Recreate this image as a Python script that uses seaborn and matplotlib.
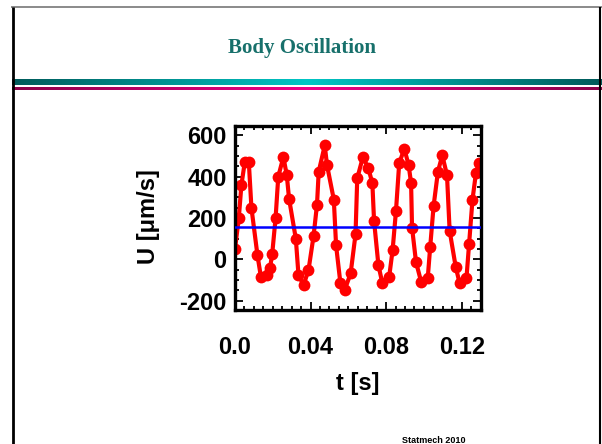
import numpy as np
import pandas as pd
import matplotlib
matplotlib.use("Agg")
import matplotlib.pyplot as plt
from matplotlib.colors import LinearSegmentedColormap
from matplotlib.ticker import MultipleLocator, FixedLocator, FixedFormatter
import seaborn as sns

# Sampled body velocity U(t)
t_s = [0.0000, 0.0020, 0.0034, 0.0052, 0.0073, 0.0087, 0.0119, 0.0137, 0.0167, 0.0185,
       0.0197, 0.0215, 0.0229, 0.0256, 0.0274, 0.0286, 0.0322, 0.0336, 0.0363, 0.0389,
       0.0416, 0.0434, 0.0443, 0.0475, 0.0487, 0.0523, 0.0535, 0.0558, 0.0581, 0.0612,
       0.0638, 0.0647, 0.0677, 0.0706, 0.0727, 0.0736, 0.0759, 0.0780, 0.0816, 0.0834,
       0.0852, 0.0869, 0.0896, 0.0919, 0.0932, 0.0937, 0.0958, 0.0985, 0.1020, 0.1033,
       0.1051, 0.1074, 0.1097, 0.1122, 0.1136, 0.1168, 0.1189, 0.1225, 0.1239, 0.1257,
       0.1275, 0.1292]
u_ums = [51, 199, 360, 472, 472, 249, 19, -84, -76, -44,
         27, 202, 400, 495, 408, 294, 99, -76, -124, -52,
         114, 265, 424, 551, 456, 289, 67, -116, -147, -68,
         122, 392, 495, 440, 368, 186, -28, -116, -84, 43,
         234, 464, 535, 456, 368, 154, -13, -108, -92, 59,
         257, 424, 503, 408, 138, -36, -116, -92, 75, 289,
         416, 464]
mean_u = 155

x_ticks = [0.0, 0.04, 0.08, 0.12]
x_tick_labels = ["0.0", "0.04", "0.08", "0.12"]
y_ticks = [-200, 0, 200, 400, 600]
y_tick_labels = ["-200", "0", "200", "400", "600"]

sns.set_theme(style="ticks")
plt.rcParams["font.family"] = ["Liberation Sans", "DejaVu Sans"]
plt.rcParams.update({"text.color": "black", "axes.labelcolor": "black",
                     "xtick.color": "black", "ytick.color": "black"})

W, H = 602, 444
fig = plt.figure(figsize=(W / 100, H / 100), dpi=100)
fig.patch.set_facecolor("white")

# Slide frame, title and header bars (pixel coordinates)
deco = fig.add_axes([0, 0, 1, 1])
deco.axis("off")

teal = LinearSegmentedColormap.from_list("teal", ["#005a5a", "#00c6c6", "#005a5a"])
pink = LinearSegmentedColormap.from_list("pink", ["#8a0048", "#ee0088", "#8a0048"])
grad = np.linspace(0, 1, 512)[None, :]
deco.imshow(grad, cmap=teal, extent=[12, W, 85, 79], aspect="auto", interpolation="bilinear")
deco.imshow(grad, cmap=pink, extent=[12, W, 90, 87], aspect="auto", interpolation="bilinear")
deco.set_xlim(0, W)
deco.set_ylim(H, 0)

deco.plot([11, W], [7.5, 7.5], color="#777777", lw=1.2, solid_capstyle="butt")
deco.plot([12.5, 12.5], [7, H], color="black", lw=2.0, solid_capstyle="butt")
deco.plot([599.5, 599.5], [7, H], color="black", lw=1.5, solid_capstyle="butt")

deco.text(302, 48, "Body Oscillation", ha="center", va="center", fontsize=15,
          fontweight="bold", color="#17706b", family=["Liberation Serif", "DejaVu Serif"])
deco.text(402, 443, "Statmech 2010", ha="left", va="baseline", fontsize=6.5,
          fontweight="bold", color="black")

# Data panel
ax = fig.add_axes([235 / W, 1 - 310 / H, 246 / W, 184 / H])
ax.set_facecolor("white")
df = pd.DataFrame({"t": t_s, "U": u_ums})
sns.lineplot(data=df, x="t", y="U", ax=ax, sort=False, color="red", lw=3.0,
             marker="o", markersize=8.5, markeredgecolor="red", markeredgewidth=0)
ax.axhline(mean_u, color="#0000ff", lw=1.8, zorder=5)

ax.set_xlim(0, 0.1302)
ax.set_ylim(-245, 645)
ax.xaxis.set_major_locator(FixedLocator(x_ticks))
ax.xaxis.set_major_formatter(FixedFormatter(x_tick_labels))
ax.xaxis.set_minor_locator(MultipleLocator(0.005))
ax.yaxis.set_major_locator(FixedLocator(y_ticks))
ax.yaxis.set_major_formatter(FixedFormatter(y_tick_labels))
ax.yaxis.set_minor_locator(MultipleLocator(50))

ax.tick_params(which="both", direction="in", top=True, right=True, color="black", width=1.3)
ax.tick_params(which="major", length=6)
ax.tick_params(which="minor", length=3)
ax.tick_params(axis="x", which="major", pad=19, labelsize=17)
ax.tick_params(axis="y", which="major", pad=6, labelsize=17)
for lab in ax.get_xticklabels() + ax.get_yticklabels():
    lab.set_fontweight("bold")
for sp in ax.spines.values():
    sp.set_visible(True)
    sp.set_linewidth(2.4)
    sp.set_color("black")

ax.set_xlabel("t [s]", fontsize=17, fontweight="bold")
ax.set_ylabel("U [\u03bcm/s]", fontsize=17, fontweight="bold")
ax.xaxis.set_label_coords(0.5, -0.335)
ax.yaxis.set_label_coords(-0.305, 0.51)

fig.savefig("out.png", dpi=100)
